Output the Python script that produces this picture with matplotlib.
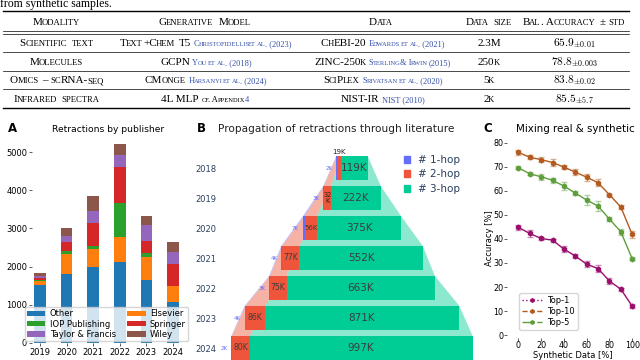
import matplotlib
matplotlib.use("Agg")
import matplotlib.pyplot as plt
import matplotlib.transforms as mtransforms
from matplotlib.font_manager import FontProperties, findfont
from matplotlib.patches import Polygon, Patch
from matplotlib.lines import Line2D
from matplotlib import ft2font
import numpy as np

# ---------------- table data ----------------
caption_tail = "from synthetic samples."
header = ["Modality", "Generative Model", "Data", "Data size", "Bal. Accuracy ± std"]
modality = ["Scientific text", "Molecules", "Omics – scRNA-seq", "Infrared spectra"]
gen_model = ["Text+Chem T5", "GCPN", "CMonge", "4L MLP"]
gen_note = ["", "", "", "cf. Appendix"]
gen_cite = ["Christofidellis et al. (2023)", "You et al. (2018)", "Harsanyi et al. (2024)", "4"]
data_name = ["ChEBI-20", "ZINC-250k", "SciPlex", "NIST-IR"]
data_cite = ["Edwards et al. (2021)", "Sterling & Irwin (2015)", "Srivatsan et al. (2020)", "NIST (2010)"]
data_size = ["2.3M", "250k", "5k", "2k"]
bal_acc = ["65.9", "78.8", "83.8", "85.5"]
bal_std = ["0.01", "0.003", "0.02", "5.7"]

# ---------------- panel A data ----------------
years_a = ["2019", "2020", "2021", "2022", "2023", "2024"]
publishers = ["Other", "Elsevier", "IOP Publishing", "Springer", "Taylor & Francis", "Wiley"]
other = [1510, 1815, 1980, 2120, 1660, 1080]
elsevier = [120, 525, 480, 650, 580, 400]
iop = [20, 60, 90, 895, 115, 20]
springer = [50, 235, 590, 942, 325, 570]
taylor = [60, 175, 310, 323, 420, 305]
wiley = [60, 200, 390, 270, 215, 260]

# ---------------- panel B data ----------------
years_b = ["2018", "2019", "2020", "2021", "2022", "2023", "2024"]
hop_names = ["# 1-hop", "# 2-hop", "# 3-hop"]
hop1 = [2, 3, 7, 4, 3, 4, 2]
hop2 = [19, 32, 56, 77, 75, 86, 80]
hop3 = [119, 222, 375, 552, 663, 871, 997]

# ---------------- panel C data ----------------
synth = [0, 10, 20, 30, 40, 50, 60, 70, 80, 90, 100]
top1 = [44.8, 42.3, 40.2, 39.5, 35.8, 32.9, 29.5, 27.7, 22.5, 19.1, 12.1]
top1_err = [1.0, 1.5, 0.6, 0.6, 1.1, 1.0, 1.3, 1.3, 1.3, 0.7, 0.8]
top10 = [76.0, 74.0, 73.0, 71.8, 69.9, 67.8, 65.7, 63.4, 58.4, 53.3, 41.9]
top10_err = [1.0, 0.8, 1.0, 1.5, 1.0, 1.2, 1.5, 1.5, 0.5, 1.0, 1.5]
top5 = [69.6, 67.1, 65.9, 64.4, 62.0, 59.1, 56.2, 53.7, 48.3, 43.0, 31.8]
top5_err = [0.6, 0.6, 1.2, 1.0, 1.5, 0.8, 2.0, 2.0, 1.0, 1.2, 0.6]

# ================================================================
W, H = 640, 360
fig = plt.figure(figsize=(W / 100, H / 100), dpi=100)
PX = mtransforms.Affine2D().scale(1.0 / W, -1.0 / H).translate(0, 1) + fig.transFigure
SERIF = "Liberation Serif"
SANS = "DejaVu Sans"
BLUE = "#3450a8"

_ft = ft2font.FT2Font(findfont(FontProperties(family=SERIF)), hinting_factor=1)
try:
    _NOHINT = ft2font.LoadFlags.NO_HINTING
except AttributeError:
    _NOHINT = ft2font.LOAD_NO_HINTING


def adv(s, size):
    """Sum of glyph advance widths in pixels (dpi 100)."""
    _ft.set_size(size, 100)
    tot = 0.0
    for ch in s:
        g = _ft.load_char(ord(ch), flags=_NOHINT)
        tot += g.linearHoriAdvance / 65536.0
    return tot


def rect(l, t, r, b):
    return [l / W, 1 - b / H, (r - l) / W, (b - t) / H]


def sc_segments(s, size, color, scale=0.78):
    out = []
    for ch in s:
        sz = size * scale if ch.islower() else size
        c = ch.upper()
        if out and out[-1][1] == sz and out[-1][2] == color:
            out[-1][0] += c
        else:
            out.append([c, sz, color])
    return out


JOIN = 0.6  # tighten joins between runs of different size


def draw_segments(segs, x, y):
    widths = []
    for j, (t, sz, c) in enumerate(segs):
        w = adv(t, sz)
        if j + 1 < len(segs) and not t.endswith(" ") and not segs[j + 1][0].startswith(" "):
            w -= JOIN
        widths.append(w)
    total = sum(widths)
    x0 = x - total / 2
    for (t, sz, c), w in zip(segs, widths):
        core = t.strip()
        if core:
            lead = len(t) - len(t.lstrip(" "))
            fig.text(x0 + adv(" " * lead, sz), y, core, transform=PX, fontsize=sz, color=c,
                     family=SERIF, ha="left", va="baseline")
        x0 += w


def hline(y, lw):
    fig.add_artist(Line2D([3, 629], [y, y], transform=PX, color="black", lw=lw))


# ---------------- table ----------------
fig.text(0, 7.0, caption_tail, transform=PX, fontsize=8.5, family=SERIF, ha="left",
         va="baseline")
FS = 8.0
CFS = 6.0
col_x = [57, 205, 382, 489, 574]
base_off = 3.6
hline(11, 1.0)
hline(31.2, 0.5)
hline(33.8, 0.5)
for cx, h in zip(col_x, header):
    draw_segments(sc_segments(h, FS, "black"), cx, 21.7 + base_off)
row_y = [42.7, 61.3, 79.8, 98.2]
for i in range(4):
    yb = row_y[i] + base_off
    draw_segments(sc_segments(modality[i], FS, "black"), col_x[0], yb)
    segs = sc_segments(gen_model[i] + " ", FS, "black")
    if gen_note[i]:
        segs += sc_segments(gen_note[i] + " ", CFS, "black")
    segs += sc_segments(gen_cite[i], CFS, BLUE)
    draw_segments(segs, col_x[1], yb)
    segs = sc_segments(data_name[i] + " ", FS, "black") + sc_segments(data_cite[i], CFS, BLUE)
    draw_segments(segs, col_x[2], yb)
    draw_segments(sc_segments(data_size[i], FS, "black"), col_x[3], yb)
    fig.text(col_x[4], yb, r"$%s_{\pm %s}$" % (bal_acc[i], bal_std[i]), transform=PX,
             fontsize=8.2, math_fontfamily="cm", ha="center", va="baseline")
    if i < 3:
        hline((row_y[i] + row_y[i + 1]) / 2, 0.5)
hline(107.5, 1.0)

# ---------------- panel labels & titles ----------------
for lab, xx in zip(["A", "B", "C"], [12, 201, 488]):
    fig.text(xx, 129, lab, transform=PX, fontsize=8.5, weight="bold", family=SANS,
             ha="center", va="center")
fig.text(108, 129, "Retractions by publisher", transform=PX, fontsize=6.6, family=SANS,
         ha="center", va="center")
fig.text(218, 128.5, "Propagation of retractions through literature", transform=PX,
         fontsize=7.6, family=SANS, ha="left", va="center", color="#222222")
fig.text(575, 128.5, "Mixing real & synthetic", transform=PX, fontsize=7.4, family=SANS,
         ha="center", va="center")

# ---------------- panel A ----------------
axA = fig.add_axes(rect(32, 134.5, 181, 343))
xa = np.arange(len(years_a))
stack = [other, elsevier, iop, springer, taylor, wiley]
colors_a = ["#1f77b4", "#ff7f0e", "#2ca02c", "#d62728", "#9467bd", "#8c564b"]
bottom = np.zeros(len(years_a))
bars = []
for name, vals, col in zip(publishers, stack, colors_a):
    b = axA.bar(xa, vals, 0.44, bottom=bottom, color=col, label=name, lw=0)
    bottom += np.array(vals)
    bars.append(b)
axA.set_xlim(-0.3, 5.3)
axA.set_ylim(0, 5460)
axA.set_xticks(xa, years_a)
axA.set_yticks([0, 1000, 2000, 3000, 4000, 5000])
for s in axA.spines.values():
    s.set_visible(False)
axA.tick_params(labelsize=6, length=2.5, width=0.6, pad=1, color="#444444")
order = [0, 2, 4, 1, 3, 5]
axA.legend([bars[i] for i in order], [publishers[i] for i in order], ncol=2,
           loc="lower center", bbox_to_anchor=(0.5, 0.0), fontsize=6, handlelength=2.2,
           handleheight=0.6, labelspacing=0.15, columnspacing=1.4, borderpad=0.3,
           handletextpad=0.5, framealpha=0.8, borderaxespad=0.2)

# ---------------- panel B ----------------
axB = fig.add_axes(rect(222, 153, 482, 363))
axB.set_xlim(-581.4, 581.4)
axB.set_ylim(6.5, -0.5)
rows = np.arange(len(years_b))
h1 = np.array(hop1, float)
h2 = np.array(hop2, float)
h3 = np.array(hop3, float)
tot = h1 + h2 + h3
lft = -tot / 2
segsB = [(lft, lft + h1), (lft + h1, lft + h1 + h2), (lft + h1 + h2, lft + tot)]
cols_b = ["#636efa", "#ef553b", "#00cc96"]
bh = 0.8
for k in [2, 1, 0]:
    l, r = segsB[k]
    for i in range(len(rows) - 1):
        poly = Polygon([(l[i], i - bh / 2), (r[i], i - bh / 2), (r[i + 1], i + 1 - bh / 2),
                        (l[i + 1], i + 1 - bh / 2)], closed=True, fc=cols_b[k], alpha=0.45, lw=0)
        axB.add_patch(poly)
for k in range(3):
    l, r = segsB[k]
    axB.barh(rows, r - l, left=l, height=bh, color=cols_b[k], lw=0)
pxk = 260 / 1162.8  # pixels per K
for i in rows:
    l, r = segsB[2]
    axB.text((l[i] + r[i]) / 2, i, f"{hop3[i]}K", ha="center", va="center", fontsize=7.5,
             color="#3d3d3d")
    l, r = segsB[1]
    cx = (l[i] + r[i]) / 2
    wpx = hop2[i] * pxk
    if wpx < 6:
        axB.text(cx, i - bh / 2 - 0.04, f"{hop2[i]}K", ha="center", va="bottom", fontsize=5,
                 color="#222222")
    elif wpx < 10:
        axB.text(cx, i, f"{hop2[i]}\nK", ha="center", va="center", fontsize=4.8,
                 color="#222222", linespacing=0.95)
    else:
        axB.text(cx, i, f"{hop2[i]}K", ha="center", va="center",
                 fontsize=5.0 if wpx < 15 else 5.6, color="#3d3d3d")
    axB.text(lft[i] - 4 / pxk, i, f"{hop1[i]}K", ha="right", va="center", fontsize=4,
             color=cols_b[0])
axB.set_yticks(rows, years_b)
axB.set_xticks([])
for s in axB.spines.values():
    s.set_visible(False)
axB.tick_params(axis="y", length=0, pad=4.3, labelsize=6, labelcolor="#2a3f5f")
axB.legend([Patch(color=c) for c in cols_b], hop_names, loc="upper left",
           bbox_to_anchor=(404, 155), bbox_transform=PX, frameon=False, fontsize=7.5,
           labelcolor="#2a3f5f", handlelength=0.6, handleheight=0.6, handletextpad=0.75,
           labelspacing=0.43, borderpad=0, borderaxespad=0)

# ---------------- panel C ----------------
axC = fig.add_axes(rect(507, 138, 639, 338))
series_c = [("Top-1", top1, top1_err, "#9a0f6c", ":"),
            ("Top-10", top10, top10_err, "#b35a1f", "--"),
            ("Top-5", top5, top5_err, "#5e9e3c", "-.")]
handles_c = []
for name, vals, err, col, ls in series_c:
    ec = matplotlib.colors.to_rgba(col, 0.45)
    axC.errorbar(synth, vals, yerr=err, color=col, marker="h", ms=3.3, lw=1.0, ecolor=ec,
                 elinewidth=1.0, capsize=2.5, capthick=1.0)
    handles_c.append(Line2D([], [], color=col, ls=ls, marker="h", ms=2.5, lw=1.0))
axC.set_xlim(-10, 106)
axC.set_ylim(-1.2, 82)
axC.set_xticks([0, 20, 40, 60, 80, 100])
axC.set_yticks(np.arange(0, 81, 10))
for s in axC.spines.values():
    s.set_visible(False)
axC.tick_params(labelsize=5.8, length=2, width=0.6, pad=0.5, color="#444444")
axC.legend(handles_c, [s[0] for s in series_c], loc="lower left", bbox_to_anchor=(0.06, 0.02),
           fontsize=6, handlelength=2.4, labelspacing=0.25, borderpad=0.35, framealpha=0.8,
           handletextpad=0.6)
fig.text(489.5, 238, "Accuracy [%]", transform=PX, fontsize=6, family=SANS, rotation=90,
         ha="center", va="center")
fig.text(573, 355, "Synthetic Data [%]", transform=PX, fontsize=6, family=SANS,
         ha="center", va="center")

fig.savefig("out.png", dpi=100)
